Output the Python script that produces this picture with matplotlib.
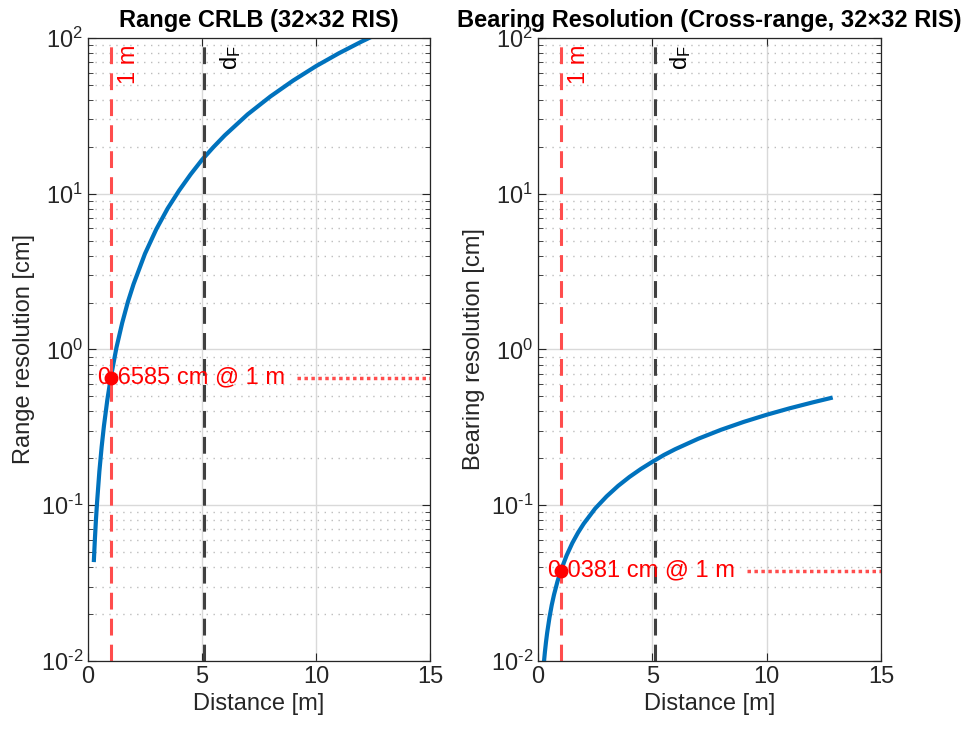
import numpy as np
import matplotlib.pyplot as plt
from matplotlib.ticker import LogLocator, FixedLocator, NullFormatter, FuncFormatter

plt.rcParams['font.family'] = ['Liberation Sans', 'DejaVu Sans']
plt.rcParams['mathtext.fontset'] = 'custom'
plt.rcParams['mathtext.rm'] = 'Liberation Sans'
plt.rcParams['mathtext.it'] = 'Liberation Sans:italic'
plt.rcParams['mathtext.bf'] = 'Liberation Sans:bold'

# distance samples [m] and resolutions [cm] for the 32x32 RIS
dist_m = [0.26, 0.30, 0.35, 0.40, 0.50, 0.60, 0.70, 0.85, 1.0, 1.25, 1.5, 1.75, 2.0,
          2.5, 3.0, 3.5, 4.0, 4.5, 5.0, 5.5, 6.0, 7.0, 8.0, 9.0, 10.0, 11.0, 12.0, 12.8]
range_cm = [0.0445, 0.0593, 0.0807, 0.105, 0.165, 0.237, 0.323, 0.476, 0.6585, 1.03,
            1.48, 2.02, 2.63, 4.12, 5.93, 8.07, 10.5, 13.3, 16.5, 19.9, 23.7, 32.3,
            42.1, 53.3, 65.9, 79.7, 94.8, 107.9]
bearing_cm = [0.0099, 0.0114, 0.0133, 0.0152, 0.0190, 0.0229, 0.0267, 0.0324, 0.0381,
              0.0476, 0.0572, 0.0667, 0.0762, 0.0953, 0.114, 0.133, 0.152, 0.171, 0.190,
              0.210, 0.229, 0.267, 0.305, 0.343, 0.381, 0.419, 0.457, 0.488]

d_ref = 1.0        # reference distance [m]
d_fraunhofer = 5.1 # far-field boundary [m]
range_at_ref = 0.6585
bearing_at_ref = 0.0381

blue = '#0072BD'
red_soft = '#FF4D4D'
axis_col = '#262626'
fs = 17

fig = plt.figure(figsize=(9.71, 7.36), dpi=100)
ax1 = fig.add_axes([0.0906, 0.1019, 0.3522, 0.8465])
ax2 = fig.add_axes([0.5541, 0.1019, 0.3532, 0.8465])


def pow10(v, pos):
    e = int(round(np.log10(v)))
    if e < 0:
        return r'$\mathregular{10^{\text{-}%d}}$' % (-e)
    return r'$\mathregular{10^{%d}}$' % e


def style_axes(ax, title, ylabel):
    ax.set_yscale('log')
    ax.set_xlim(0, 15)
    ax.set_ylim(1e-2, 1e2)
    ax.xaxis.set_major_locator(FixedLocator([0, 5, 10, 15]))
    ax.yaxis.set_major_locator(LogLocator(base=10, numticks=10))
    ax.yaxis.set_major_formatter(FuncFormatter(pow10))
    ax.yaxis.set_minor_locator(LogLocator(base=10, subs=np.arange(2, 10), numticks=10))
    ax.yaxis.set_minor_formatter(NullFormatter())
    ax.grid(True, which='major', color='#d9d9d9', linewidth=1.0, linestyle='-')
    ax.grid(True, which='minor', axis='y', color='#bdbdbd', linewidth=1.0,
            linestyle=(0, (1, 4)))
    ax.set_axisbelow(True)
    ax.tick_params(which='both', direction='in', top=True, right=True,
                   labelsize=fs, colors=axis_col, labelcolor=axis_col)
    ax.tick_params(which='major', length=6)
    ax.tick_params(which='minor', length=3.5)
    for s in ax.spines.values():
        s.set_color(axis_col)
        s.set_linewidth(0.9)
    ax.set_title(title, fontsize=fs, fontweight='bold', pad=8)
    ax.set_xlabel('Distance [m]', fontsize=fs, color=axis_col)
    ax.set_ylabel(ylabel, fontsize=fs, color=axis_col)


def markers(ax, value):
    ax.axvline(d_ref, color=red_soft, linestyle=(0, (5.5, 3)), linewidth=2.2)
    ax.axvline(d_fraunhofer, color='#404040', linestyle=(0, (5.5, 3)), linewidth=2.2)
    ax.text(d_ref + 0.3, 90, '1 m', color='red', rotation=90, fontsize=fs,
            ha='left', va='top')
    ax.text(d_fraunhofer + 0.6, 90, r'd$_\mathregular{F}$', color='black',
            rotation=90, fontsize=fs, ha='left', va='top')
    ax.plot([9.15, 15], [value, value], color=red_soft, linestyle=(0, (1, 1)),
            linewidth=2.5)
    ax.text(0.42, value, f'{value:g} cm @ 1 m', color='red', fontsize=fs,
            ha='left', va='center')
    ax.plot(d_ref, value, 'o', color='red', markersize=9)


style_axes(ax1, 'Range CRLB (32×32 RIS)', 'Range resolution [cm]')
ax1.plot(dist_m, range_cm, color=blue, linewidth=3)
markers(ax1, range_at_ref)

style_axes(ax2, 'Bearing Resolution (Cross-range, 32×32 RIS)', 'Bearing resolution [cm]')
ax2.plot(dist_m, bearing_cm, color=blue, linewidth=3)
markers(ax2, bearing_at_ref)

fig.savefig('out.png', dpi=100)
